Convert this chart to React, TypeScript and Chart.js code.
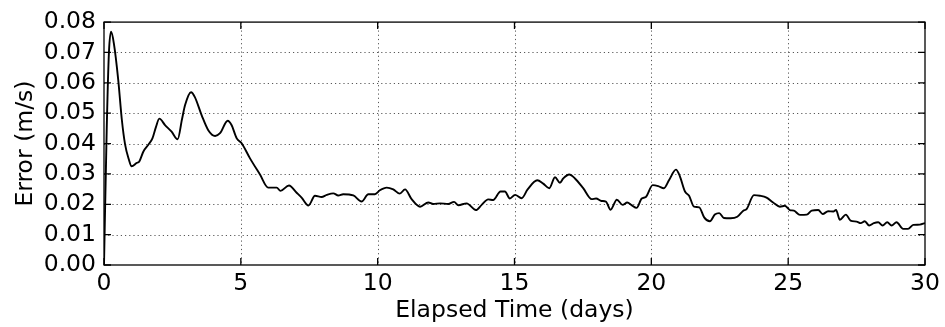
import React, { useEffect, useRef } from "react";
import { Chart, registerables } from "chart.js";

Chart.register(...registerables);

// Elapsed time (days) and velocity error (m/s)
const elapsedDays = [
  0, 0.1, 0.18, 0.26, 0.36, 0.52, 0.65, 0.77, 0.9, 1.01, 1.19, 1.29, 1.44, 1.62, 1.77, 1.9,
  2.02, 2.23, 2.47, 2.69, 2.85, 2.96, 3.18, 3.32, 3.57, 3.81, 4.06, 4.24, 4.52, 4.66, 4.85,
  5.03, 5.33, 5.7, 6.0, 6.31, 6.45, 6.76, 7.04, 7.22, 7.47, 7.71, 7.95, 8.14, 8.38, 8.56,
  8.74, 9.11, 9.41, 9.66, 9.9, 10.08, 10.33, 10.57, 10.81, 11.0, 11.24, 11.55, 11.85, 12.03,
  12.28, 12.58, 12.79, 12.95, 13.25, 13.59, 13.8, 14.04, 14.22, 14.49, 14.65, 14.83, 15.02,
  15.26, 15.48, 15.83, 16.05, 16.27, 16.48, 16.66, 16.78, 17.0, 17.21, 17.51, 17.82, 17.98,
  18.18, 18.34, 18.51, 18.74, 18.95, 19.12, 19.28, 19.46, 19.65, 19.8, 20.05, 20.25, 20.46,
  20.65, 20.9, 21.04, 21.23, 21.38, 21.56, 21.75, 21.93, 22.14, 22.32, 22.48, 22.65, 22.9,
  23.14, 23.36, 23.48, 23.75, 23.97, 24.21, 24.45, 24.7, 24.88, 25.06, 25.21, 25.43, 25.68,
  25.86, 26.1, 26.26, 26.46, 26.65, 26.75, 26.89, 27.11, 27.28, 27.5, 27.65, 27.8, 27.96,
  28.13, 28.29, 28.45, 28.62, 28.78, 28.96, 29.2, 29.38, 29.57, 29.81, 30.0,
];

const errorValues = [
  0.0, 0.045, 0.07, 0.0768, 0.073, 0.061, 0.048, 0.0397, 0.035, 0.0325, 0.0336, 0.0341,
  0.0374, 0.0396, 0.0417, 0.0455, 0.0482, 0.0461, 0.0439, 0.0414, 0.048, 0.0526, 0.0569,
  0.0553, 0.0493, 0.0444, 0.0425, 0.0434, 0.0475, 0.0461, 0.0417, 0.0401, 0.0352, 0.0298,
  0.0255, 0.0255, 0.0244, 0.0262, 0.0238, 0.0222, 0.0196, 0.0228, 0.0224, 0.0231, 0.0236,
  0.0229, 0.0233, 0.0229, 0.0209, 0.0233, 0.0233, 0.0246, 0.0255, 0.0249, 0.0235, 0.0249,
  0.0217, 0.0192, 0.0206, 0.0201, 0.0203, 0.0201, 0.0208, 0.0197, 0.0203, 0.0181, 0.0198,
  0.0216, 0.0214, 0.0242, 0.0242, 0.0219, 0.0231, 0.022, 0.0249, 0.0279, 0.0268, 0.0253,
  0.0289, 0.0271, 0.0285, 0.0298, 0.0285, 0.0253, 0.0217, 0.0219, 0.0211, 0.0209, 0.0182,
  0.0215, 0.0198, 0.0206, 0.0197, 0.0188, 0.0219, 0.0224, 0.0263, 0.026, 0.0253, 0.028,
  0.0314, 0.0293, 0.0242, 0.0228, 0.0192, 0.019, 0.0157, 0.0144, 0.0166, 0.0171, 0.0155,
  0.0154, 0.0159, 0.0179, 0.0184, 0.023, 0.0228, 0.0222, 0.0206, 0.0192, 0.0195, 0.0181,
  0.0179, 0.0165, 0.0166, 0.0179, 0.0181, 0.0168, 0.0177, 0.0176, 0.0181, 0.0149, 0.0166,
  0.0146, 0.0143, 0.0138, 0.0144, 0.013, 0.0138, 0.0141, 0.013, 0.0141, 0.013, 0.0141,
  0.0119, 0.0119, 0.0132, 0.0133, 0.0138,
];

const xTicks = [0, 5, 10, 15, 20, 25, 30];
const yTicks = [0, 0.01, 0.02, 0.03, 0.04, 0.05, 0.06, 0.07, 0.08];

const FONT = "'DejaVu Sans', sans-serif";
const FONT_SIZE = 23.5;
const TICK_LEN = 7;

// Dotted grid, black frame and inward ticks on all four sides
const framePlugin = {
  id: "frame",
  beforeDatasetsDraw(chart: any) {
    const { ctx, chartArea: a, scales } = chart;
    ctx.save();
    ctx.strokeStyle = "rgba(0,0,0,0.65)";
    ctx.lineWidth = 1;
    ctx.setLineDash([1.2, 3]);
    xTicks.forEach((t) => {
      const x = Math.round(scales.x.getPixelForValue(t)) + 0.5;
      if (x <= a.left + 1 || x >= a.right - 1) return;
      ctx.beginPath();
      ctx.moveTo(x, a.top);
      ctx.lineTo(x, a.bottom);
      ctx.stroke();
    });
    yTicks.forEach((t) => {
      const y = Math.round(scales.y.getPixelForValue(t)) + 0.5;
      if (y <= a.top + 1 || y >= a.bottom - 1) return;
      ctx.beginPath();
      ctx.moveTo(a.left, y);
      ctx.lineTo(a.right, y);
      ctx.stroke();
    });
    ctx.restore();
  },
  afterDatasetsDraw(chart: any) {
    const { ctx, chartArea: a, scales } = chart;
    ctx.save();
    ctx.strokeStyle = "#000";
    ctx.lineWidth = 1.3;
    ctx.setLineDash([]);
    xTicks.forEach((t) => {
      const x = scales.x.getPixelForValue(t);
      ctx.beginPath();
      ctx.moveTo(x, a.bottom);
      ctx.lineTo(x, a.bottom - TICK_LEN);
      ctx.moveTo(x, a.top);
      ctx.lineTo(x, a.top + TICK_LEN);
      ctx.stroke();
    });
    yTicks.forEach((t) => {
      const y = scales.y.getPixelForValue(t);
      ctx.beginPath();
      ctx.moveTo(a.left, y);
      ctx.lineTo(a.left + TICK_LEN, y);
      ctx.moveTo(a.right, y);
      ctx.lineTo(a.right - TICK_LEN, y);
      ctx.stroke();
    });
    ctx.strokeRect(a.left, a.top, a.right - a.left, a.bottom - a.top);
    ctx.restore();
  },
};

export default function App() {
  const canvasRef = useRef<HTMLCanvasElement>(null);

  useEffect(() => {
    document.body.style.margin = "0";
    const canvas = canvasRef.current;
    if (!canvas) return;
    const points = elapsedDays.map((d, i) => ({ x: d, y: errorValues[i] }));
    const chart = new Chart(canvas, {
      type: "line",
      data: {
        datasets: [
          {
            data: points,
            borderColor: "#000",
            borderWidth: 1.9,
            pointRadius: 0,
            cubicInterpolationMode: "monotone",
            fill: false,
          },
        ],
      },
      options: {
        animation: false,
        responsive: false,
        maintainAspectRatio: false,
        layout: { padding: { left: 0, right: 20, top: 19, bottom: 0 } },
        plugins: { legend: { display: false }, tooltip: { enabled: false } },
        scales: {
          x: {
            type: "linear",
            min: 0,
            max: 30,
            afterFit: (s: any) => {
              s.height = 62;
            },
            afterBuildTicks: (s: any) => {
              s.ticks = xTicks.map((v) => ({ value: v }));
            },
            grid: { display: false, drawTicks: false },
            border: { display: false },
            ticks: {
              color: "#000",
              padding: 5,
              maxRotation: 0,
              autoSkip: false,
              font: { family: FONT, size: FONT_SIZE },
              callback: (v: any) => String(v),
            },
            title: {
              display: true,
              text: "Elapsed Time (days)",
              color: "#000",
              font: { family: FONT, size: FONT_SIZE },
              padding: { top: 0, bottom: 2 },
            },
          },
          y: {
            type: "linear",
            min: 0,
            max: 0.08,
            afterFit: (s: any) => {
              s.width = 104;
            },
            afterBuildTicks: (s: any) => {
              s.ticks = yTicks.map((v) => ({ value: v }));
            },
            grid: { display: false, drawTicks: false },
            border: { display: false },
            ticks: {
              color: "#000",
              padding: 8,
              autoSkip: false,
              font: { family: FONT, size: FONT_SIZE },
              callback: (v: any) => Number(v).toFixed(2),
            },
            title: {
              display: true,
              text: "Error (m/s)",
              color: "#000",
              font: { family: FONT, size: FONT_SIZE },
              padding: { top: 12, bottom: 0 },
            },
          },
        },
      },
      plugins: [framePlugin],
    });
    return () => chart.destroy();
  }, []);

  return (
    <div style={{ width: 945, height: 327, background: "#fff" }}>
      <canvas ref={canvasRef} width={945} height={327} />
    </div>
  );
}
